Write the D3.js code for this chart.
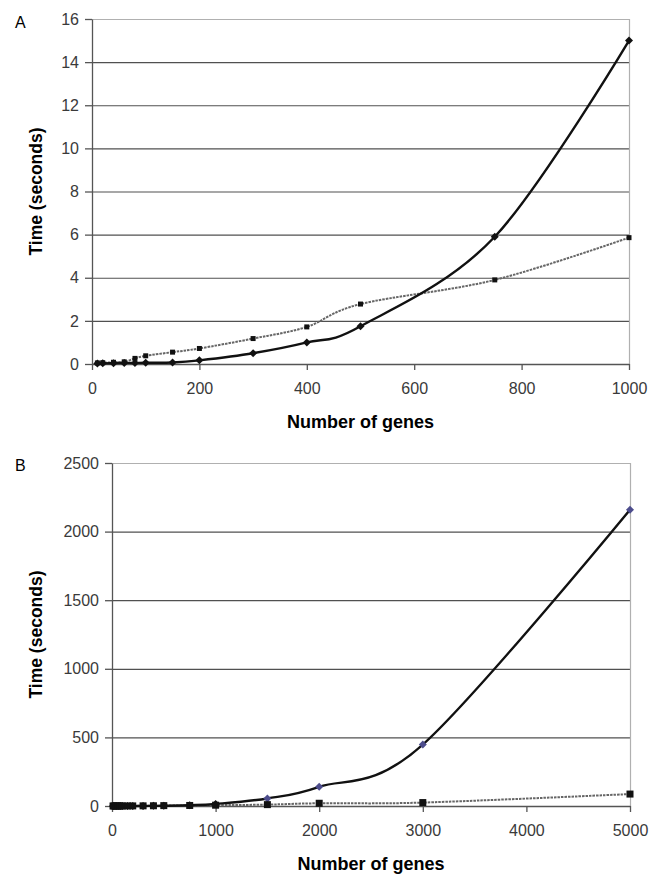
<!DOCTYPE html>
<html>
<head>
<meta charset="utf-8">
<script src="https://cdn.jsdelivr.net/npm/d3@7"></script>
<style>
  body { margin: 0; background: #fff; }
  svg { display: block; font-family: "Liberation Sans", Arial, sans-serif; }
</style>
</head>
<body>
<svg id="chart" width="662" height="875"></svg>
<script>
// number of genes (x) and running times (y, seconds)
const genesA = [10, 20, 40, 60, 80, 100, 150, 200, 300, 400, 500, 750, 1000];
const solidA = [0.02, 0.03, 0.04, 0.05, 0.05, 0.06, 0.07, 0.17, 0.5, 1.0, 1.75, 5.9, 15.0];
const grayA = [0.05, 0.06, 0.08, 0.1, 0.26, 0.38, 0.55, 0.72, 1.18, 1.72, 2.78, 3.9, 5.86];

const genesB = [10, 20, 40, 60, 80, 100, 150, 200, 300, 400, 500, 750, 1000, 1500, 2000, 3000, 5000];
const solidB = [0.02, 0.03, 0.04, 0.05, 0.05, 0.06, 0.07, 0.17, 0.5, 1.0, 1.75, 5.9, 15, 55, 140, 448, 2160];
const grayB = [0.05, 0.06, 0.08, 0.1, 0.26, 0.38, 0.55, 0.72, 1.18, 1.72, 2.78, 3.9, 5.86, 10, 20, 25, 87];

const xTicksA = [0, 200, 400, 600, 800, 1000];
const yTicksA = [0, 2, 4, 6, 8, 10, 12, 14, 16];
const xTicksB = [0, 1000, 2000, 3000, 4000, 5000];
const yTicksB = [0, 500, 1000, 1500, 2000, 2500];

const svg = d3.select("svg#chart");

function drawPanel(cfg) {
    const x = d3.scaleLinear().domain(cfg.xDomain).range([cfg.left, cfg.right]);
    const y = d3.scaleLinear().domain(cfg.yDomain).range([cfg.bottom, cfg.top]);
    const g = svg.append("g");

    // gridlines
    g.selectAll(".grid")
     .data(cfg.yTicks.filter(d => d > cfg.yDomain[0] && d < cfg.yDomain[1]))
     .enter().append("line")
             .attr("x1", cfg.left).attr("x2", cfg.right)
             .attr("y1", d => y(d) + 0.5).attr("y2", d => y(d) + 0.5)
             .attr("stroke", "#505050")
             .attr("stroke-width", 1.2);

    // plot border top/right
    g.append("path")
     .attr("d", `M${cfg.left},${cfg.top + 0.5}H${cfg.right + 0.5}V${cfg.bottom}`)
     .attr("fill", "none")
     .attr("stroke", "#b0b0b0")
     .attr("stroke-width", 1.2);

    // axes
    const yAxis = d3.axisLeft(y).tickValues(cfg.yTicks).tickFormat(d3.format("d"))
                    .tickSize(7).tickPadding(6).tickSizeOuter(0);
    const xAxis = d3.axisBottom(x).tickValues(cfg.xTicks).tickFormat(d3.format("d"))
                    .tickSize(6).tickPadding(13).tickSizeOuter(0);

    const gy = g.append("g").attr("transform", `translate(${cfg.left},0)`).call(yAxis);
    const gx = g.append("g").attr("transform", `translate(0,${cfg.bottom})`).call(xAxis);
    [gx, gy].forEach(a => {
        a.select(".domain").attr("stroke", "#555").attr("stroke-width", 1.3);
        a.selectAll(".tick line").attr("stroke", "#555").attr("stroke-width", 1.3);
        a.selectAll(".tick text")
         .attr("font-size", 16)
         .attr("fill", "#3a3a3a")
         .attr("font-family", "Liberation Sans, Arial, sans-serif");
    });

    const pts = (xs, ys) => xs.map((v, i) => [v, ys[i]]);
    const line = d3.line()
                   .x(d => x(d[0]))
                   .y(d => y(d[1]))
                   .curve(d3.curveCardinal.tension(0));

    // gray series
    g.append("path")
     .attr("d", line(pts(cfg.genes, cfg.gray)))
     .attr("fill", "none")
     .attr("stroke", "#666")
     .attr("stroke-width", 2)
     .attr("stroke-dasharray", "2.5,1");

    // solid series
    g.append("path")
     .attr("d", line(pts(cfg.genes, cfg.solid)))
     .attr("fill", "none")
     .attr("stroke", "#111")
     .attr("stroke-width", 2.4);

    const ds = cfg.diamondSize;
    g.selectAll(".diamond")
     .data(pts(cfg.genes, cfg.solid))
     .enter().append("path")
             .attr("d", `M0,${-ds}L${ds},0L0,${ds}L${-ds},0Z`)
             .attr("transform", d => `translate(${x(d[0])},${y(d[1])})`)
             .attr("fill", (d, i) => cfg.diamondColor(d, i));

    const ss = cfg.squareSize;
    g.selectAll(".square")
     .data(pts(cfg.genes, cfg.gray))
     .enter().append("rect")
             .attr("x", d => x(d[0]) - ss / 2)
             .attr("y", d => y(d[1]) - ss / 2)
             .attr("width", ss)
             .attr("height", ss)
             .attr("fill", "#111");

    // titles
    g.append("text")
     .attr("x", (cfg.left + cfg.right) / 2)
     .attr("y", cfg.bottom + 64)
     .attr("text-anchor", "middle")
     .attr("font-size", 18)
     .attr("font-weight", "bold")
     .text("Number of genes");

    g.append("text")
     .attr("transform", `translate(${cfg.yTitleX},${(cfg.top + cfg.bottom) / 2}) rotate(-90)`)
     .attr("text-anchor", "middle")
     .attr("font-size", 17.5)
     .attr("font-weight", "bold")
     .text("Time (seconds)");

    g.append("text")
     .attr("x", 15)
     .attr("y", cfg.letterY)
     .attr("font-size", 16)
     .text(cfg.letter);
}

drawPanel({
    letter: "A", letterY: 28,
    genes: genesA, solid: solidA, gray: grayA,
    xDomain: [0, 1000], yDomain: [0, 16],
    xTicks: xTicksA, yTicks: yTicksA,
    left: 92, right: 629, top: 19, bottom: 364,
    yTitleX: 42,
    diamondSize: 4, squareSize: 5,
    diamondColor: () => "#111"
});

drawPanel({
    letter: "B", letterY: 471,
    genes: genesB, solid: solidB, gray: grayB,
    xDomain: [0, 5000], yDomain: [0, 2500],
    xTicks: xTicksB, yTicks: yTicksB,
    left: 112, right: 630, top: 463, bottom: 806,
    yTitleX: 42,
    diamondSize: 4, squareSize: 7,
    diamondColor: d => d[0] >= 1500 ? "#4c4c8c" : "#111"
});
</script>
</body>
</html>
